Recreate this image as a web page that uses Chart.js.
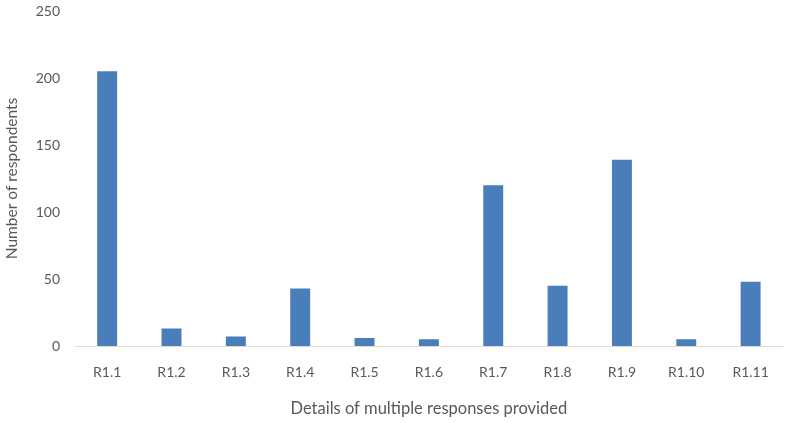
<!DOCTYPE html>
<html>
<head>
    <title>Details of multiple responses</title>
    <script src="https://cdn.jsdelivr.net/npm/chart.js@4.4.0/dist/chart.umd.min.js"></script>
    <style>
        html, body { margin: 0; padding: 0; background: #fff; }
        .chart-container { position: relative; width: 787px; height: 423px; }
    </style>
</head>
<body>
    <div class="chart-container">
        <canvas id="responsesChart"></canvas>
    </div>
    <script>
        // Data
        const categories = ['R1.1', 'R1.2', 'R1.3', 'R1.4', 'R1.5', 'R1.6', 'R1.7', 'R1.8', 'R1.9', 'R1.10', 'R1.11'];
        const respondents = [205, 13, 7, 43, 6, 5, 120, 45, 139, 5, 48];
        const yTicks = [0, 50, 100, 150, 200, 250];

        const textColor = '#595959';

        new Chart(document.getElementById('responsesChart'), {
            type: 'bar',
            data: {
                labels: categories,
                datasets: [{
                    label: 'Number of respondents',
                    data: respondents,
                    backgroundColor: '#4a7ebb',
                    barPercentage: 0.31,
                    categoryPercentage: 1
                }]
            },
            options: {
                responsive: true,
                maintainAspectRatio: false,
                animation: false,
                layout: { padding: { top: 11, right: 4, left: 0, bottom: 0 } },
                plugins: {
                    legend: { display: false },
                    tooltip: { enabled: false }
                },
                scales: {
                    x: {
                        grid: { display: false, drawTicks: false },
                        border: { display: true, color: '#e3dccd', width: 1 },
                        ticks: {
                            color: textColor,
                            font: { family: 'Lato', size: 14 },
                            padding: 18
                        },
                        title: {
                            display: true,
                            text: 'Details of multiple responses provided',
                            color: textColor,
                            font: { family: 'Lato', size: 16.5 },
                            padding: { top: 11, bottom: 4 }
                        },
                        afterFit: scale => { scale.height = 77; }
                    },
                    y: {
                        min: 0,
                        max: 250,
                        afterBuildTicks: scale => { scale.ticks = yTicks.map(v => ({ value: v })); },
                        grid: { display: false, drawTicks: false },
                        border: { display: false },
                        ticks: {
                            color: textColor,
                            font: { family: 'Lato', size: 14 },
                            padding: 15
                        },
                        title: {
                            display: true,
                            text: 'Number of respondents',
                            color: textColor,
                            font: { family: 'Lato', size: 15.5 },
                            padding: { top: 3, bottom: 0 }
                        },
                        afterFit: scale => {
                            scale.width = 75;
                            scale.paddingTop = 0;
                            scale.paddingBottom = 0;
                        }
                    }
                }
            }
        });
    </script>
</body>
</html>
